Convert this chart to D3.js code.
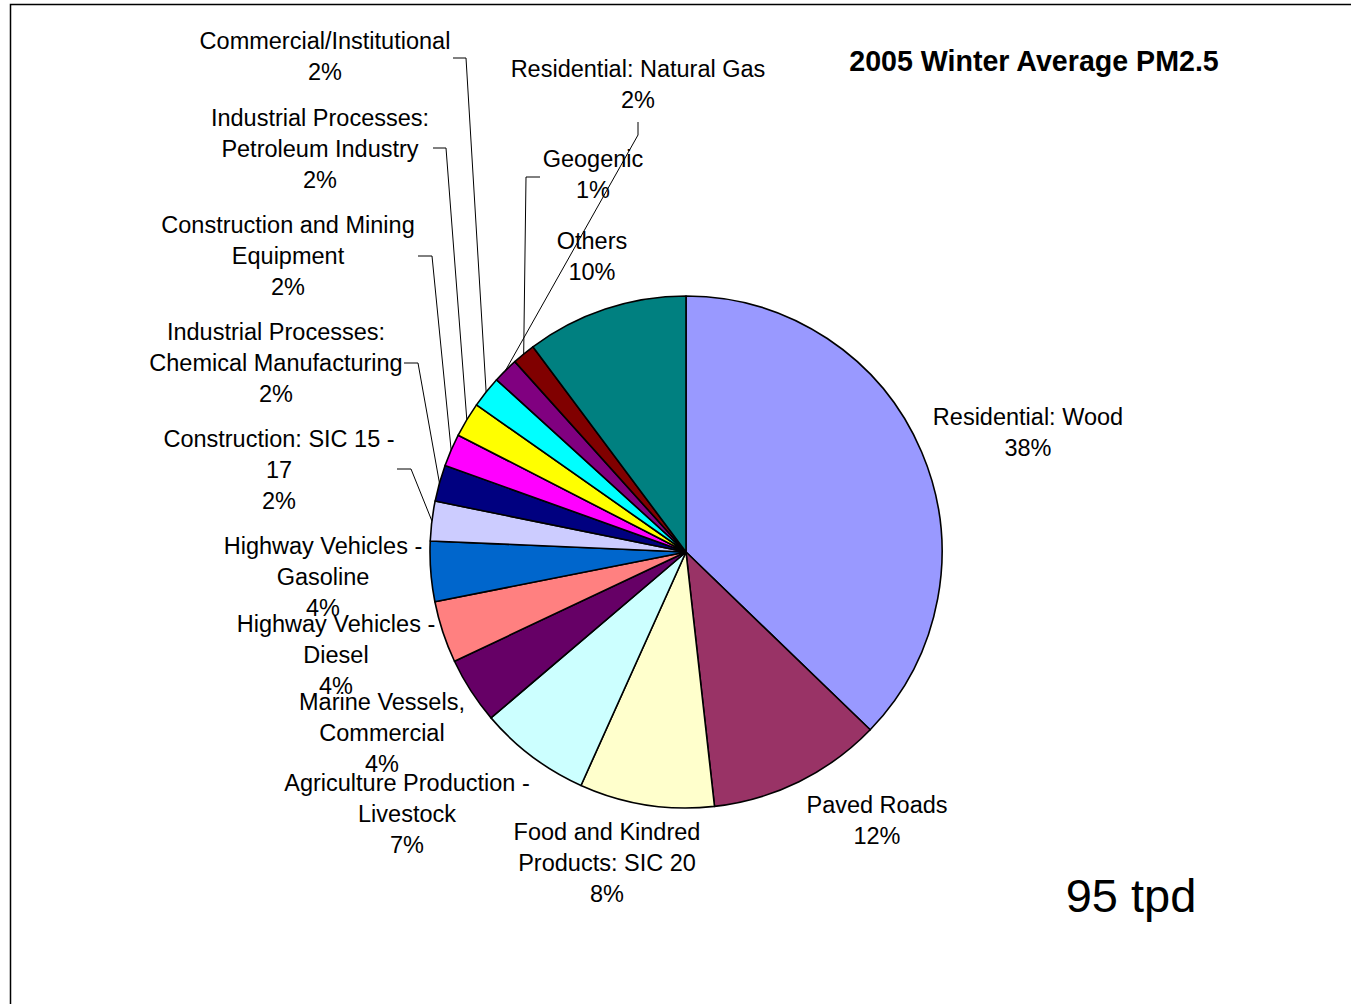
<!DOCTYPE html>
<html>
<head>
<meta charset="utf-8">
<script src="https://cdn.jsdelivr.net/npm/d3@7/dist/d3.min.js"></script>
<style>
  html, body { margin: 0; padding: 0; background: #fff; }
  svg { display: block; }
  text { font-family: "Liberation Sans", Arial, sans-serif; fill: #000; }
</style>
</head>
<body>
<svg id="chart" width="1351" height="1004"></svg>
<script>
// ---- DATA (clockwise from 12 o'clock) ----
const categories = [
  "Residential: Wood", "Paved Roads", "Food and Kindred Products: SIC 20",
  "Agriculture Production - Livestock", "Marine Vessels, Commercial",
  "Highway Vehicles - Diesel", "Highway Vehicles - Gasoline",
  "Construction: SIC 15 - 17", "Industrial Processes: Chemical Manufacturing",
  "Construction and Mining Equipment", "Industrial Processes: Petroleum Industry",
  "Commercial/Institutional", "Residential: Natural Gas", "Geogenic", "Others"
];
// share of slice (%)
const values = [37.2, 11.0, 8.5, 7.05, 4.2, 3.9, 3.8, 2.5, 2.3, 2.05, 2.2, 2.0, 1.6, 1.45, 10.2];
// percentage labels as printed on the chart
const pctLabels = ["38%", "12%", "8%", "7%", "4%", "4%", "4%", "2%", "2%", "2%", "2%", "2%", "2%", "1%", "10%"];
// label text lines (name part)
const labelLines = [
  ["Residential: Wood"], ["Paved Roads"], ["Food and Kindred", "Products: SIC 20"],
  ["Agriculture Production -", "Livestock"], ["Marine Vessels,", "Commercial"],
  ["Highway Vehicles -", "Diesel"], ["Highway Vehicles -", "Gasoline"],
  ["Construction: SIC 15 -", "17"], ["Industrial Processes:", "Chemical Manufacturing"],
  ["Construction and Mining", "Equipment"], ["Industrial Processes:", "Petroleum Industry"],
  ["Commercial/Institutional"], ["Residential: Natural Gas"], ["Geogenic"], ["Others"]
];
const colors = ["#9999FF", "#993366", "#FFFFCC", "#CCFFFF", "#660066", "#FF8080", "#0066CC",
  "#CCCCFF", "#000080", "#FF00FF", "#FFFF00", "#00FFFF", "#800080", "#800000", "#008080"];
const title = "2005 Winter Average PM2.5";
const totalNote = "95 tpd";

// ---- LAYOUT ----
const W = 1351, H = 1004;
const cx = 686, cy = 552, R = 256;
const fontSize = 23.5, lineH = 31;
// label block: center x, center y of first line; leader: elbow points (start, elbow)
const labelLayout = [
  {x: 1028, y: 417}, {x: 877, y: 805}, {x: 607, y: 832},
  {x: 407, y: 783}, {x: 382, y: 702},
  {x: 336, y: 624}, {x: 323, y: 546},
  {x: 279, y: 439, leader: [[397, 469], [411, 469]]},
  {x: 276, y: 332, leader: [[404, 363], [418, 363]]},
  {x: 288, y: 225, leader: [[418, 256], [432, 256]]},
  {x: 320, y: 118, leader: [[433, 148], [446, 148]]},
  {x: 325, y: 41, leader: [[453, 58], [466, 58]]},
  {x: 638, y: 69, leader: [[638, 122], [638, 135]]},
  {x: 593, y: 159, leader: [[540, 177], [526, 177]]},
  {x: 592, y: 241}
];

const svg = d3.select("#chart");

// frame
svg.append("path")
  .attr("d", `M10.5,${H} V4.5 H${W}`)
  .attr("fill", "none").attr("stroke", "#000").attr("stroke-width", 1.5);

const pie = d3.pie().sort(null).value(d => d)(values);
const arc = d3.arc().innerRadius(0).outerRadius(R);
const edgeArc = d3.arc().innerRadius(R).outerRadius(R);

const g = svg.append("g").attr("transform", `translate(${cx},${cy})`);
g.selectAll("path.slice").data(pie).enter().append("path")
  .attr("class", "slice")
  .attr("d", arc)
  .attr("fill", (d, i) => colors[i])
  .attr("stroke", "#000").attr("stroke-width", 1.6).attr("stroke-linejoin", "round");

// leader lines
const line = d3.line();
pie.forEach((d, i) => {
  const L = labelLayout[i];
  if (!L.leader) return;
  const [ex, ey] = edgeArc.centroid(d);
  svg.append("path")
    .attr("d", line([...L.leader, [cx + ex, cy + ey]]))
    .attr("fill", "none").attr("stroke", "#000").attr("stroke-width", 1);
});

// labels
labelLines.forEach((lines, i) => {
  const L = labelLayout[i];
  const all = [...lines, pctLabels[i]];
  const t = svg.append("text")
    .attr("text-anchor", "middle")
    .attr("font-size", fontSize);
  all.forEach((s, k) => {
    t.append("tspan").attr("x", L.x).attr("y", L.y + k * lineH + fontSize * 0.35).text(s);
  });
});

// title
svg.append("text").attr("x", 1034).attr("y", 61 + 28.6 * 0.36)
  .attr("text-anchor", "middle").attr("font-size", 28.6).attr("font-weight", "bold")
  .text(title);

svg.append("text").attr("x", 1131).attr("y", 895 + 47 * 0.36)
  .attr("text-anchor", "middle").attr("font-size", 47)
  .text(totalNote);
</script>
</body>
</html>
